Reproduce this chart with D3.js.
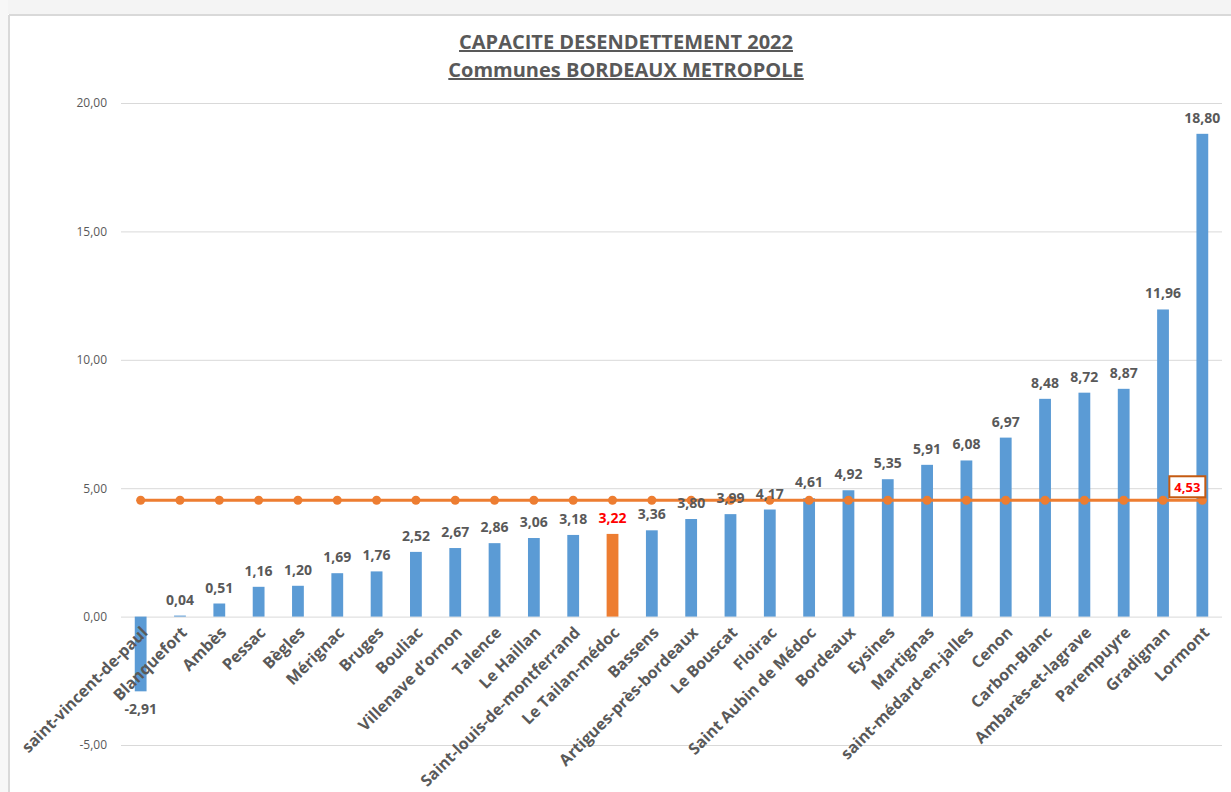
<!DOCTYPE html>
<html>
<head>
<meta charset="utf-8">
<script src="https://cdn.jsdelivr.net/npm/d3@7"></script>
<style>
  html, body { margin: 0; padding: 0; background: #ffffff; }
  svg { display: block; font-family: "Open Sans", "Noto Sans", sans-serif; }
</style>
</head>
<body>
<svg id="chart" width="1231" height="792"></svg>
<script>
const titleLines = ["CAPACITE DESENDETTEMENT 2022", "Communes BORDEAUX METROPOLE"];
const communes = ["saint-vincent-de-paul", "Blanquefort", "Ambès", "Pessac", "Bègles", "Mérignac", "Bruges", "Bouliac", "Villenave d’ornon", "Talence", "Le Haillan", "Saint-louis-de-montferrand", "Le Tailan-médoc", "Bassens", "Artigues-près-bordeaux", "Le Bouscat", "Floirac", "Saint Aubin de Médoc", "Bordeaux", "Eysines", "Martignas", "saint-médard-en-jalles", "Cenon", "Carbon-Blanc", "Ambarès-et-lagrave", "Parempuyre", "Gradignan", "Lormont"];
const capacite = [-2.91, 0.04, 0.51, 1.16, 1.20, 1.69, 1.76, 2.52, 2.67, 2.86, 3.06, 3.18, 3.22, 3.36, 3.80, 3.99, 4.17, 4.61, 4.92, 5.35, 5.91, 6.08, 6.97, 8.48, 8.72, 8.87, 11.96, 18.80];
const moyenne = 4.53;
const highlighted = "Le Tailan-médoc";
const yTicks = [-5, 0, 5, 10, 15, 20];

const textGray = "#595959";
const blue = "#5B9BD5";
const orange = "#ED7D31";
const gridGray = "#d9d9d9";

const svg = d3.select("#chart");
const fmt = v => d3.format(".2f")(v).replace(".", ",").replace("−", "-");

// frame
svg.append("rect").attr("x", 0).attr("y", 0).attr("width", 1231).attr("height", 14).attr("fill", "#f4f4f4");
svg.append("rect").attr("x", 0).attr("y", 0).attr("width", 8).attr("height", 792).attr("fill", "#f7f7f7");
svg.append("line").attr("x1", 9).attr("x2", 1231).attr("y1", 15).attr("y2", 15).attr("stroke", gridGray).attr("stroke-width", 2);
svg.append("line").attr("x1", 9).attr("x2", 9).attr("y1", 15).attr("y2", 792).attr("stroke", gridGray).attr("stroke-width", 2);

const x = d3.scaleBand().domain(communes).range([121, 1222]).paddingInner(0.7).paddingOuter(0.35);
const y = d3.scaleLinear().domain([-5, 20]).range([745, 103]);
const cx = d => x(d) + x.bandwidth() / 2;

// title
const title = svg.append("g");
titleLines.forEach((t, i) => {
  title.append("text")
    .attr("x", 626).attr("y", 49 + i * 28)
    .attr("text-anchor", "middle")
    .attr("font-size", 20).attr("font-weight", "bold")
    .attr("fill", textGray)
    .attr("text-decoration", "underline")
    .text(t);
});

// y axis grid + labels
const yAxis = d3.axisLeft(y).tickValues(yTicks).tickSize(-(1222 - 121)).tickFormat(fmt).tickPadding(14);
const ga = svg.append("g").attr("transform", "translate(121,0)").call(yAxis);
ga.select(".domain").remove();
ga.selectAll(".tick line").attr("stroke", gridGray).attr("stroke-width", 1);
ga.selectAll(".tick text").attr("fill", textGray).attr("font-size", 12).attr("font-family", "Open Sans");

// bars
svg.append("g").selectAll("rect").data(communes).join("rect")
  .attr("x", d => x(d))
  .attr("width", x.bandwidth())
  .attr("y", (d, i) => y(Math.max(0, capacite[i])))
  .attr("height", (d, i) => Math.abs(y(capacite[i]) - y(0)))
  .attr("fill", d => d === highlighted ? orange : blue);

// average line
const line = d3.line().x(d => cx(d)).y(() => y(moyenne));
svg.append("path").datum(communes).attr("d", line)
  .attr("fill", "none").attr("stroke", orange).attr("stroke-width", 3);
svg.append("g").selectAll("circle").data(communes).join("circle")
  .attr("cx", d => cx(d)).attr("cy", y(moyenne)).attr("r", 4.5).attr("fill", orange);

// value labels
svg.append("g").selectAll("text").data(communes).join("text")
  .attr("x", d => cx(d))
  .attr("y", (d, i) => capacite[i] >= 0 ? y(capacite[i]) - 11 : y(capacite[i]) + 23)
  .attr("text-anchor", "middle")
  .attr("font-size", 14).attr("font-weight", "bold")
  .attr("fill", d => d === highlighted ? "#FF0000" : textGray)
  .text((d, i) => fmt(capacite[i]));

// x labels
svg.append("g").selectAll("text").data(communes).join("text")
  .attr("transform", d => `translate(${cx(d) + 8},${y(0) + 17}) rotate(-45)`)
  .attr("text-anchor", "end")
  .attr("font-size", 16).attr("font-weight", "bold")
  .attr("fill", textGray)
  .text(d => d);

// average label box
const last = communes[communes.length - 1];
const bx = cx(last) - 15, by = y(moyenne) - 13;
svg.append("rect").attr("x", bx - 18).attr("y", by - 11).attr("width", 36).attr("height", 21)
  .attr("fill", "#fff").attr("stroke", "#C55A11").attr("stroke-width", 2);
svg.append("text").attr("x", bx).attr("y", by + 5).attr("text-anchor", "middle")
  .attr("font-size", 13).attr("font-weight", "bold").attr("fill", "#FF0000")
  .text(fmt(moyenne));
</script>
</body>
</html>
